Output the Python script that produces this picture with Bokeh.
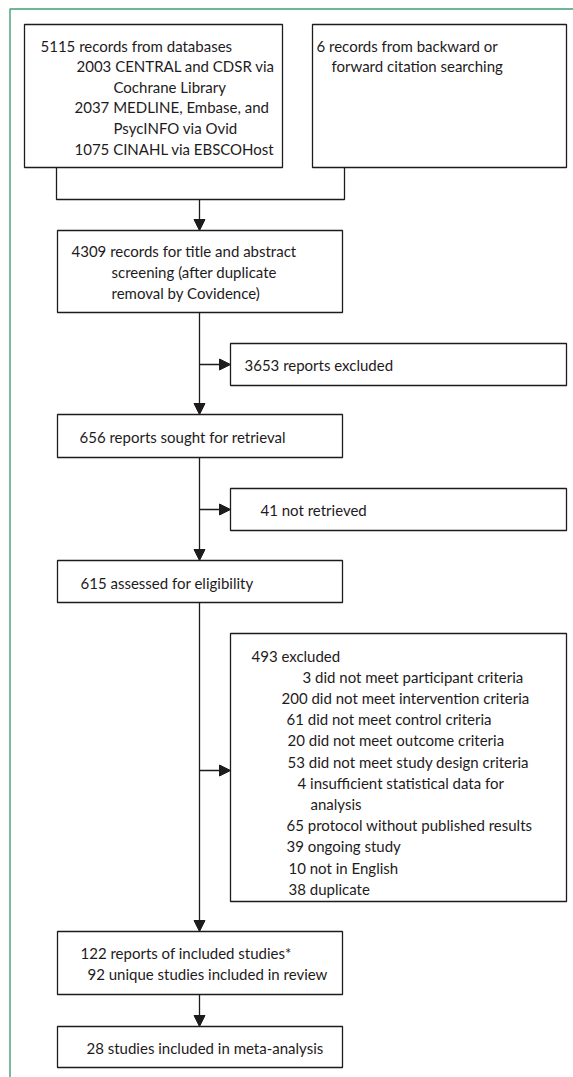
from bokeh.plotting import figure
from bokeh.models import Range1d, Arrow, NormalHead
from bokeh.core.properties import value
from bokeh.embed import file_html
from bokeh.resources import INLINE

# ---------------- data (texts and counts) ----------------
db_lines = ["5115 records from databases",
            "2003 CENTRAL and CDSR via",
            "Cochrane Library",
            "2037 MEDLINE, Embase, and",
            "PsycINFO via Ovid",
            "1075 CINAHL via EBSCOHost"]
citation_lines = ["6 records from backward or",
                  "forward citation searching"]
screening_lines = ["4309 records for title and abstract",
                   "screening (after duplicate",
                   "removal by Covidence)"]
screen_excluded_lines = ["3653 reports excluded"]
sought_lines = ["656 reports sought for retrieval"]
not_retrieved_lines = ["41 not retrieved"]
assessed_lines = ["615 assessed for eligibility"]
excl_counts = ["493", "3", "200", "61", "20", "53", "4", "", "65", "39", "10", "38"]
excl_reasons = ["excluded",
                "did not meet participant criteria",
                "did not meet intervention criteria",
                "did not meet control criteria",
                "did not meet outcome criteria",
                "did not meet study design criteria",
                "insufficient statistical data for",
                "analysis",
                "protocol without published results",
                "ongoing study",
                "not in English",
                "duplicate"]
included_lines = ["122 reports of included studies*",
                  "92 unique studies included in review"]
meta_lines = ["28 studies included in meta-analysis"]

excluded_lines = [(c + " " + r).strip() for c, r in zip(excl_counts, excl_reasons)]

# ---------------- layout (pixel-like coordinates, y downward) ----------------
W, H = 573, 1077
p = figure(width=W, height=H, output_backend="svg", toolbar_location=None,
           x_range=Range1d(0, W), y_range=Range1d(H, 0),
           x_axis_location=None, y_axis_location=None,
           min_border=0, min_border_left=0, min_border_right=0,
           min_border_top=0, min_border_bottom=0)
p.grid.visible = False
p.outline_line_color = None
p.background_fill_color = "white"
p.border_fill_color = "white"

INK = "#1e1b1c"
GREEN = "#3f9e73"
FONT = "Lato"
FS = "15px"
LW = 1.3
TX = 199  # trunk x

# outer green frame (top and left)
p.line([9.5, 9.5, W], [H, 8.5, 8.5], line_color=GREEN, line_width=1.4)

boxes = [
    # (x0, x1, y0, y1, lines, xs, y_first, step)
    (24, 282, 24, 167, db_lines, [40, 76, 113, 74, 113, 74], 45, 20.6),
    (312, 566, 24, 167, citation_lines, [316, 331], 45, 20.6),
    (57, 342, 230, 312, screening_lines, [71, 111, 111], 250, 21),
    (230, 566, 343, 385, screen_excluded_lines, [244], 364, 21),
    (57, 342, 414, 457, sought_lines, [79], 436, 21),
    (230, 566, 488, 530, not_retrieved_lines, [260], 509, 21),
    (57, 342, 560, 602, assessed_lines, [80], 582, 21),
    (230, 566, 633, 901, excluded_lines,
     [251, 302, 281, 286, 287, 287, 297, 310, 286, 286, 288, 288], 655, 21.2),
    (57, 342, 931, 994, included_lines, [80, 87], 952, 21),
    (57, 342, 1026, 1067, meta_lines, [86], 1047, 21),
]

for x0, x1, y0, y1, lines, xs, yf, step in boxes:
    p.quad(left=x0, right=x1, top=y0, bottom=y1, fill_color="white",
           line_color=INK, line_width=LW)
    ys = [yf + i * step for i in range(len(lines))]
    p.text(x=xs, y=ys, text=lines, text_font=value(FONT), text_font_size=FS,
           text_color=INK, text_baseline="middle", text_align="left")

# connector from the two search boxes
p.line([56, 56, 344, 344], [167, 199, 199, 167], line_color=INK, line_width=LW)

def arrow(xs, ys, xe, ye):
    p.add_layout(Arrow(end=NormalHead(size=11, fill_color=INK, line_color=INK, line_width=1),
                       x_start=xs, y_start=ys, x_end=xe, y_end=ye,
                       line_color=INK, line_width=LW))

# main trunk arrows
arrow(TX, 199, TX, 230)
arrow(TX, 312, TX, 414)
arrow(TX, 457, TX, 560)
arrow(TX, 602, TX, 931)
arrow(TX, 994, TX, 1026)
# side branches
arrow(TX, 364, 230, 364)
arrow(TX, 509, 230, 509)
arrow(TX, 770, 230, 770)

open("out.html", "w").write(file_html(p, INLINE))
